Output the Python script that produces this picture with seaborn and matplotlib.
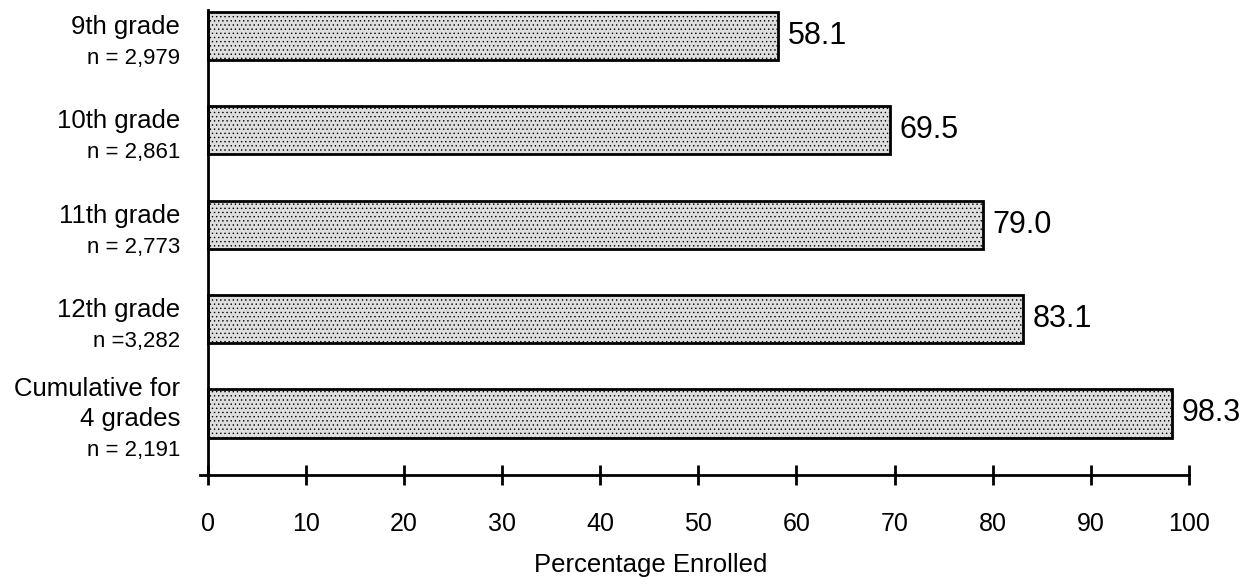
import matplotlib.pyplot as plt
import seaborn as sns

# data
grades = ["9th grade", "10th grade", "11th grade", "12th grade", "Cumulative for\n4 grades"]
n_labels = ["n = 2,979", "n = 2,861", "n = 2,773", "n =3,282", "n = 2,191"]
pct_enrolled = [58.1, 69.5, 79.0, 83.1, 98.3]
x_ticks = [0, 10, 20, 30, 40, 50, 60, 70, 80, 90, 100]

sns.set_style("white", {"axes.edgecolor": "black", "xtick.color": "black",
                        "text.color": "black", "axes.labelcolor": "black"})
plt.rcParams['font.family'] = ['Liberation Sans', 'DejaVu Sans']
plt.rcParams['hatch.linewidth'] = 0.5

fig = plt.figure(figsize=(12.46, 5.84), dpi=100)
ax = fig.add_axes([0.1605, 0.187, 0.7937, 0.796])

sns.barplot(x=pct_enrolled, y=grades, orient='h', color='#dedede', saturation=1,
            edgecolor='black', linewidth=2, width=0.51, hatch='....', ax=ax)

#------------------------------ Etiquetas ------------------------------#
ax.bar_label(ax.containers[0], labels=[f"{v:.1f}" for v in pct_enrolled],
             padding=7, fontsize=22)

# etiquetas de la izquierda: grado grande, n pequeño
for i, (g, n) in enumerate(zip(grades, n_labels)):
    lines = g.split("\n") + [n]
    k = len(lines)
    for j, line in enumerate(lines):
        off_px = 13 + (j - (k - 1) / 2) * 30
        size = 16 if j == k - 1 else 18.5
        ax.annotate(line, xy=(0, i), xycoords='data', xytext=(-20, -off_px * 0.72),
                    textcoords='offset points', ha='right', va='baseline', fontsize=size)

#------------------------------ Ejes ------------------------------#
ax.set_xlim(-0.8, 100)
ax.set_ylim(4.65, -0.275)
ax.set_xticks(x_ticks)
sns.despine(ax=ax)
ax.spines['left'].set_position(('data', 0))
ax.spines['left'].set_linewidth(2)
ax.spines['bottom'].set_linewidth(2)
ax.tick_params(axis='x', direction='inout', length=14, width=2, pad=20, labelsize=18, bottom=True)
ax.tick_params(axis='y', left=False, labelleft=False)
ax.set_ylabel('')
ax.set_xlabel('Percentage Enrolled', fontsize=18.5)
ax.xaxis.set_label_coords(0.456, -0.168)

fig.savefig('out.png', dpi=100)
